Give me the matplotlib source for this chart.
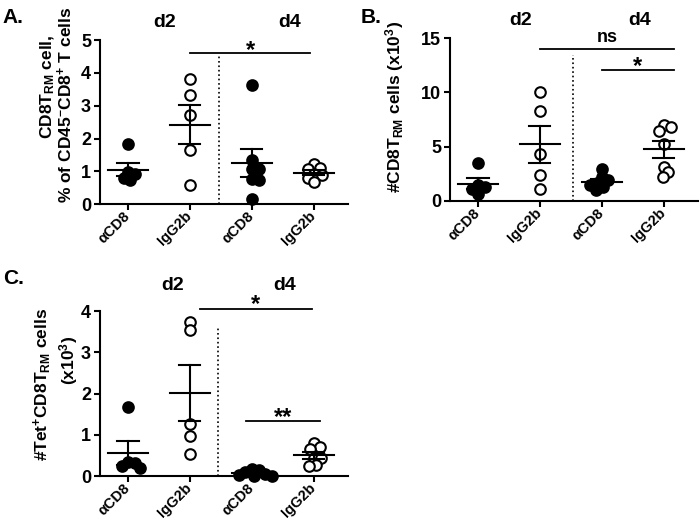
import matplotlib
matplotlib.use("Agg")
import matplotlib.pyplot as plt
import numpy as np

plt.rcParams['font.family'] = ['Liberation Sans', 'DejaVu Sans']
plt.rcParams['font.weight'] = 'bold'
plt.rcParams['mathtext.fontset'] = 'custom'
plt.rcParams['mathtext.rm'] = 'Liberation Sans:bold'
plt.rcParams['mathtext.it'] = 'Liberation Sans:bold'
plt.rcParams['mathtext.bf'] = 'Liberation Sans:bold'

groups = ["αCD8", "IgG2b", "αCD8", "IgG2b"]
days = ["d2", "d4"]

# A: % of CD45- CD8+ T cells
a_acd8_d2 = [1.82, 0.98, 0.92, 0.80, 0.72]
a_igg_d2 = [3.83, 3.34, 2.73, 1.65, 0.58]
a_acd8_d4 = [3.63, 1.34, 1.06, 1.06, 0.78, 0.73, 0.17]
a_igg_d4 = [1.22, 1.10, 1.08, 0.92, 0.90, 0.80, 0.68]

# B: # CD8 TRM cells (x10^3)
b_acd8_d2 = [3.5, 1.5, 1.3, 1.1, 0.6]
b_igg_d2 = [10.0, 8.3, 4.3, 2.4, 1.1]
b_acd8_d4 = [2.95, 2.2, 1.9, 1.7, 1.5, 1.3, 1.0]
b_igg_d4 = [6.96, 6.77, 6.49, 5.27, 3.13, 2.63, 2.17]

# C: # Tet+ CD8 TRM cells (x10^3)
c_acd8_d2 = [1.68, 0.35, 0.32, 0.25, 0.20]
c_igg_d2 = [3.74, 3.54, 1.26, 0.98, 0.53]
c_acd8_d4 = [0.17, 0.15, 0.10, 0.05, 0.02, 0.01, 0.0]
c_igg_d4 = [0.79, 0.71, 0.65, 0.43, 0.43, 0.27, 0.25]


def swarm_offsets(ax, vals, min_px=7.0):
    # simple beeswarm in pixel space, returns x offsets in data units
    t = ax.transData
    x_px = t.transform((1, 0))[0] - t.transform((0, 0))[0]
    y_px = t.transform((0, 1))[1] - t.transform((0, 0))[1]
    placed = []
    offs = []
    cands = [0.0]
    for k in range(1, 80):
        cands += [k * 0.5, -k * 0.5]
    for v in vals:
        y = v * y_px
        for c in cands:
            if all((c - px) ** 2 + (y - py) ** 2 >= min_px ** 2 for px, py in placed):
                break
        placed.append((c, y))
        offs.append(c / x_px)
    return np.array(offs)


def draw_panel(ax, data, ylim, yticks, div_x, div_top):
    ax.set_xlim(-0.45, 3.55)
    ax.set_ylim(*ylim)
    for i, vals in enumerate(data):
        vals = np.array(vals)
        offs = swarm_offsets(ax, vals)
        fc = "black" if i % 2 == 0 else "white"
        ax.scatter(i + offs, vals, s=58, facecolor=fc, edgecolor="black",
                   linewidth=1.5, zorder=3, clip_on=False)
        m = vals.mean()
        sem = vals.std(ddof=1) / np.sqrt(len(vals))
        ax.plot([i - 0.32, i + 0.32], [m, m], color="black", lw=1.5, zorder=4)
        ax.plot([i, i], [m - sem, m + sem], color="black", lw=1.5, zorder=4)
        for e in (m - sem, m + sem):
            ax.plot([i - 0.17, i + 0.17], [e, e], color="black", lw=1.5, zorder=4)
    ax.plot([div_x, div_x], [0, div_top], color="black", lw=1.2, ls=":", clip_on=False)
    ax.set_xticks(range(4))
    ax.set_xticklabels(groups, rotation=45, ha="right", va="center",
                       rotation_mode="anchor", fontsize=10.5, fontweight="bold")
    ax.set_yticks(yticks)
    ax.set_yticklabels([str(t) for t in yticks], fontsize=13, fontweight="bold")
    for s in ("top", "right"):
        ax.spines[s].set_visible(False)
    for s in ("left", "bottom"):
        ax.spines[s].set_linewidth(1.5)
    ax.tick_params(width=1.5, length=4.5, direction="out")
    ax.tick_params(axis="x", pad=2.5)
    ax.tick_params(axis="y", pad=2)


def sig(ax, x1, x2, y, ytxt, txt, fs=17):
    ax.plot([x1, x2], [y, y], color="black", lw=1.3, clip_on=False)
    ax.text((x1 + x2) / 2, ytxt, txt, ha="center", va="center",
            fontsize=fs, fontweight="bold", clip_on=False)


fig = plt.figure(figsize=(7, 5.22), dpi=100)

# panel A
axA = fig.add_axes([0.143, 0.609, 0.354, 0.314])
draw_panel(axA, [a_acd8_d2, a_igg_d2, a_acd8_d4, a_igg_d4], (0, 5), [0, 1, 2, 3, 4, 5], 1.47, 4.55)
sig(axA, 1.0, 2.94, 4.6, 4.7, "*")
axA.text(0.262, 1.11, days[0], transform=axA.transAxes, ha="center", va="center", fontsize=14)
axA.text(0.766, 1.11, days[1], transform=axA.transAxes, ha="center", va="center", fontsize=14)
axA.text(-0.21, 0.713, r"CD8T$_{RM}$ cell,", transform=axA.transAxes, rotation=90,
         ha="center", va="center", fontsize=12.5)
axA.text(-0.141, 0.604, r"% of CD45$^{-}$CD8$^{+}$ T cells", transform=axA.transAxes,
         rotation=90, ha="center", va="center", fontsize=12.5)

# panel B
axB = fig.add_axes([0.643, 0.615, 0.354, 0.312])
draw_panel(axB, [b_acd8_d2, b_igg_d2, b_acd8_d4, b_igg_d4], (0, 15), [0, 5, 10, 15], 1.53, 13.4)
sig(axB, 1.0, 3.16, 14.0, 15.1, "ns", fs=13)
sig(axB, 2.0, 3.16, 12.1, 12.4, "*")
axB.text(0.286, 1.11, days[0], transform=axB.transAxes, ha="center", va="center", fontsize=14)
axB.text(0.766, 1.11, days[1], transform=axB.transAxes, ha="center", va="center", fontsize=14)
axB.text(-0.226, 0.577, r"#CD8T$_{RM}$ cells (x10$^{3}$)", transform=axB.transAxes,
         rotation=90, ha="center", va="center", fontsize=12.5)

# panel C
axC = fig.add_axes([0.143, 0.088, 0.354, 0.316])
draw_panel(axC, [c_acd8_d2, c_igg_d2, c_acd8_d4, c_igg_d4], (0, 4), [0, 1, 2, 3, 4], 1.45, 3.6)
sig(axC, 1.16, 2.97, 4.05, 4.15, "*")
sig(axC, 1.9, 3.1, 1.33, 1.42, "**")
axC.text(0.294, 1.155, days[0], transform=axC.transAxes, ha="center", va="center", fontsize=14)
axC.text(0.746, 1.155, days[1], transform=axC.transAxes, ha="center", va="center", fontsize=14)
axC.text(-0.234, 0.558, r"#Tet$^{+}$CD8T$_{RM}$ cells", transform=axC.transAxes,
         rotation=90, ha="center", va="center", fontsize=12.5)
axC.text(-0.129, 0.70, r"(x10$^{3}$)", transform=axC.transAxes,
         rotation=90, ha="center", va="center", fontsize=12.5)

# panel letters
fig.text(0.004, 0.985, "A.", fontsize=15, va="top")
fig.text(0.515, 0.985, "B.", fontsize=15, va="top")
fig.text(0.004, 0.485, "C.", fontsize=15, va="top")

fig.savefig("out.png", dpi=100)
